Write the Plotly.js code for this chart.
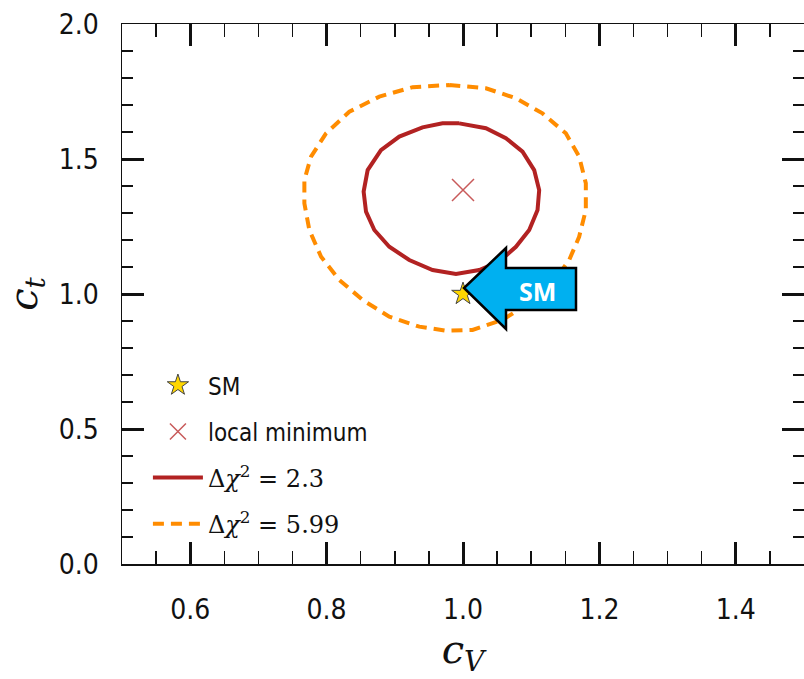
<!DOCTYPE html>
<html>
<head>
<meta charset="utf-8">
<script src="https://cdn.plot.ly/plotly-3.0.1.min.js"></script>
<style>
html,body{margin:0;padding:0;overflow:hidden;background:#fff;}
#chart{width:806px;height:679px;}
</style>
</head>
<body>
<div id="chart"></div>
<script>
// Δχ² = 2.3 contour (cV, ct)
const c23_x = [0.9945,1.0336,1.0629,1.0873,1.1044,1.1117,1.1093,1.0971,1.0776,1.0531,1.0238,0.9897,0.9554,0.9212,0.8919,0.8700,0.8578,0.8543,0.8602,0.8797,0.9066,0.9407,0.9700,0.9945];
const c23_y = [1.632,1.614,1.577,1.527,1.459,1.385,1.311,1.237,1.175,1.120,1.089,1.074,1.089,1.126,1.175,1.237,1.305,1.379,1.459,1.533,1.583,1.617,1.632,1.632];
// Δχ² = 5.99 contour
const c599_x = [0.9799,1.0336,1.0776,1.1166,1.1508,1.1703,1.1801,1.1801,1.1703,1.1557,1.1312,1.0971,1.0579,1.0140,0.9750,0.9359,0.8919,0.8528,0.8187,0.7919,0.7747,0.7674,0.7674,0.7772,0.7992,0.8333,0.8773,0.9261,0.9799];
const c599_y = [1.774,1.762,1.725,1.669,1.595,1.509,1.410,1.311,1.212,1.126,1.040,0.966,0.904,0.867,0.864,0.879,0.916,0.978,1.052,1.138,1.237,1.336,1.422,1.509,1.595,1.675,1.731,1.766,1.774];
// points
const sm_x = [1.0], sm_y = [1.0];
const min_x = [1.0], min_y = [1.385];
const legendNames = ['SM', 'local minimum',
  '<span style="font-family:\'DejaVu Serif\',serif">Δ<i>χ</i><sup>2</sup> = 2.3</span>',
  '<span style="font-family:\'DejaVu Serif\',serif">Δ<i>χ</i><sup>2</sup> = 5.99</span>'];
const arrowLabel = 'SM';

const traces = [
  {x: c599_x, y: c599_y, mode: 'lines', name: legendNames[3], legendrank: 4, legendgroup: 'd',
   line: {color: '#ff8c00', width: 4, dash: '11px,7px'}},
  {x: c23_x, y: c23_y, mode: 'lines', name: legendNames[2], legendrank: 3, legendgroup: 'c',
   line: {color: '#b22222', width: 4}},
  {x: min_x, y: min_y, mode: 'markers', name: legendNames[1], legendrank: 2, legendgroup: 'b',
   marker: {symbol: 'x-thin-open', size: 22, line: {color: '#c85a5a', width: 1.5}, color: '#c85a5a'}},
  {x: sm_x, y: sm_y, mode: 'markers', name: legendNames[0], legendrank: 1, legendgroup: 'a',
   marker: {symbol: 'star', size: 17, color: '#ffd700', line: {color: '#444', width: 1}}}
];

const axisCommon = {
  showgrid: false, zeroline: false, showline: true, linecolor: '#111', linewidth: 1.5,
  mirror: 'ticks', ticks: 'inside', ticklen: 22, tickwidth: 3, tickcolor: '#111',
  tickfont: {family: 'DejaVu Sans Condensed, DejaVu Sans', size: 28, color: '#111'}
};

const layout = {
  width: 806, height: 679,
  margin: {l: 122, r: 2, t: 24, b: 115},
  paper_bgcolor: '#fff', plot_bgcolor: '#fff',
  showlegend: true,
  xaxis: Object.assign({}, axisCommon, {
    range: [0.5, 1.5], tickvals: [0.6, 0.8, 1.0, 1.2, 1.4], ticktext: ['0.6','0.8','1.0','1.2','1.4'],
    ticklabelstandoff: 20,
    minor: {dtick: 0.05, tick0: 0.5, ticks: 'inside', ticklen: 13, tickwidth: 1.5, tickcolor: '#111'},
    title: {text: '<i>c</i><sub><i>V</i></sub>', font: {family: 'DejaVu Serif, serif', size: 40, color: '#111'}, standoff: 8}
  }),
  yaxis: Object.assign({}, axisCommon, {
    range: [0, 2], tickvals: [0, 0.5, 1.0, 1.5, 2.0], ticktext: ['0.0','0.5','1.0','1.5','2.0'],
    ticklabelstandoff: 16,
    minor: {dtick: 0.1, tick0: 0, ticks: 'inside', ticklen: 11, tickwidth: 1.5, tickcolor: '#111'},
    title: {text: '<i>c</i><sub><i>t</i></sub>', font: {family: 'DejaVu Serif, serif', size: 40, color: '#111'}, standoff: 10}
  }),
  legend: {
    x: 0.038, y: 0.372, xanchor: 'left', yanchor: 'top', bgcolor: 'rgba(0,0,0,0)',
    font: {family: 'DejaVu Sans Condensed, DejaVu Sans', size: 24, color: '#111'},
    tracegroupgap: 12, traceorder: 'grouped', itemwidth: 50
  },
  shapes: [{
    type: 'path', xref: 'x', yref: 'y', xsizemode: 'pixel', ysizemode: 'pixel',
    xanchor: sm_x[0], yanchor: sm_y[0],
    path: 'M 1,6 L 43,46 L 43,26 L 113,26 L 113,-16 L 43,-16 L 43,-35 Z',
    fillcolor: '#00b0f0', line: {color: '#000', width: 2.5}, layer: 'above'
  }],
  annotations: [{
    x: sm_x[0], y: sm_y[0], xref: 'x', yref: 'y', text: '<b>' + arrowLabel + '</b>', showarrow: false,
    xshift: 74, yshift: 3, font: {family: 'Open Sans, Liberation Sans', size: 25, color: '#fff'}
  }]
};

Plotly.newPlot('chart', traces, layout, {displayModeBar: false, staticPlot: true});
</script>
</body>
</html>
